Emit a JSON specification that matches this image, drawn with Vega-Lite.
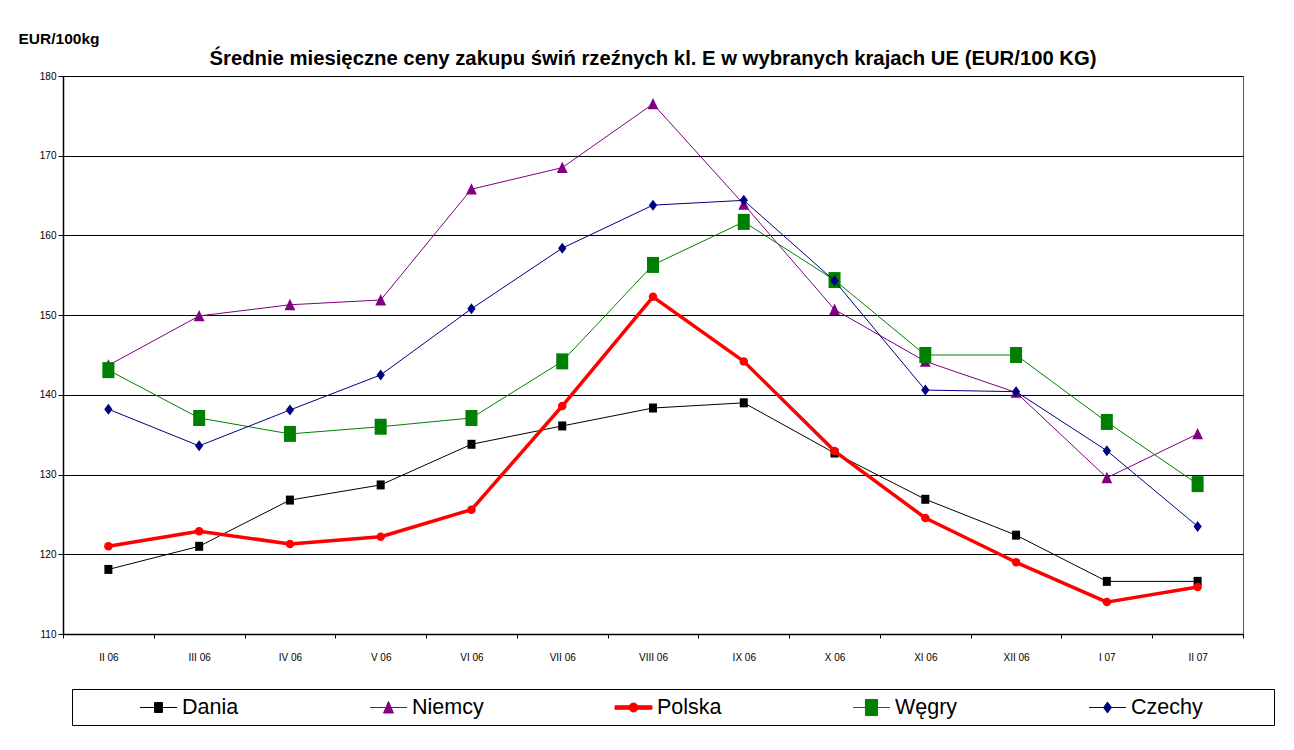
{
  "$schema": "https://vega.github.io/schema/vega-lite/v6.json",
  "width": 1180,
  "height": 558,
  "autosize": {"type": "none"},
  "padding": {"left": 63, "top": 76, "right": 51, "bottom": 116},
  "background": "white",
  "title": {
    "text": "Średnie miesięczne ceny zakupu świń rzeźnych kl. E w wybranych krajach UE (EUR/100 KG)",
    "font": "Liberation Sans",
    "fontSize": 20.3,
    "fontWeight": "bold",
    "color": "black",
    "anchor": "middle",
    "frame": "group",
    "baseline": "alphabetic",
    "offset": 0,
    "dy": 54
  },
  "config": {
    "view": {"stroke": "#555555", "strokeWidth": 1},
    "legend": {"symbolFillColor": "#000000", "symbolStrokeColor": "#000000"}
  },
  "data": {
    "values": [
      {"month": "II 06", "series": "Dania", "value": 118.1},
      {"month": "III 06", "series": "Dania", "value": 121.0},
      {"month": "IV 06", "series": "Dania", "value": 126.8},
      {"month": "V 06", "series": "Dania", "value": 128.7},
      {"month": "VI 06", "series": "Dania", "value": 133.8},
      {"month": "VII 06", "series": "Dania", "value": 136.1},
      {"month": "VIII 06", "series": "Dania", "value": 138.35},
      {"month": "IX 06", "series": "Dania", "value": 139.0},
      {"month": "X 06", "series": "Dania", "value": 132.7},
      {"month": "XI 06", "series": "Dania", "value": 126.9},
      {"month": "XII 06", "series": "Dania", "value": 122.4},
      {"month": "I 07", "series": "Dania", "value": 116.6},
      {"month": "II 07", "series": "Dania", "value": 116.6},
      {"month": "II 06", "series": "Niemcy", "value": 143.7},
      {"month": "III 06", "series": "Niemcy", "value": 149.9},
      {"month": "IV 06", "series": "Niemcy", "value": 151.3},
      {"month": "V 06", "series": "Niemcy", "value": 151.9},
      {"month": "VI 06", "series": "Niemcy", "value": 165.8},
      {"month": "VII 06", "series": "Niemcy", "value": 168.5},
      {"month": "VIII 06", "series": "Niemcy", "value": 176.5},
      {"month": "IX 06", "series": "Niemcy", "value": 163.9},
      {"month": "X 06", "series": "Niemcy", "value": 150.7},
      {"month": "XI 06", "series": "Niemcy", "value": 144.2},
      {"month": "XII 06", "series": "Niemcy", "value": 140.3},
      {"month": "I 07", "series": "Niemcy", "value": 129.6},
      {"month": "II 07", "series": "Niemcy", "value": 135.1},
      {"month": "II 06", "series": "Polska", "value": 121.0},
      {"month": "III 06", "series": "Polska", "value": 122.9},
      {"month": "IV 06", "series": "Polska", "value": 121.3},
      {"month": "V 06", "series": "Polska", "value": 122.2},
      {"month": "VI 06", "series": "Polska", "value": 125.6},
      {"month": "VII 06", "series": "Polska", "value": 138.6},
      {"month": "VIII 06", "series": "Polska", "value": 152.3},
      {"month": "IX 06", "series": "Polska", "value": 144.2},
      {"month": "X 06", "series": "Polska", "value": 132.95},
      {"month": "XI 06", "series": "Polska", "value": 124.55},
      {"month": "XII 06", "series": "Polska", "value": 119.0},
      {"month": "I 07", "series": "Polska", "value": 114.0},
      {"month": "II 07", "series": "Polska", "value": 115.9},
      {"month": "II 06", "series": "Węgry", "value": 143.1},
      {"month": "III 06", "series": "Węgry", "value": 137.1},
      {"month": "IV 06", "series": "Węgry", "value": 135.1},
      {"month": "V 06", "series": "Węgry", "value": 136.0},
      {"month": "VI 06", "series": "Węgry", "value": 137.1},
      {"month": "VII 06", "series": "Węgry", "value": 144.2},
      {"month": "VIII 06", "series": "Węgry", "value": 156.3},
      {"month": "IX 06", "series": "Węgry", "value": 161.7},
      {"month": "X 06", "series": "Węgry", "value": 154.4},
      {"month": "XI 06", "series": "Węgry", "value": 145.0},
      {"month": "XII 06", "series": "Węgry", "value": 145.0},
      {"month": "I 07", "series": "Węgry", "value": 136.6},
      {"month": "II 07", "series": "Węgry", "value": 128.8},
      {"month": "II 06", "series": "Czechy", "value": 138.2},
      {"month": "III 06", "series": "Czechy", "value": 133.6},
      {"month": "IV 06", "series": "Czechy", "value": 138.1},
      {"month": "V 06", "series": "Czechy", "value": 142.5},
      {"month": "VI 06", "series": "Czechy", "value": 150.8},
      {"month": "VII 06", "series": "Czechy", "value": 158.4},
      {"month": "VIII 06", "series": "Czechy", "value": 163.8},
      {"month": "IX 06", "series": "Czechy", "value": 164.4},
      {"month": "X 06", "series": "Czechy", "value": 154.3},
      {"month": "XI 06", "series": "Czechy", "value": 140.6},
      {"month": "XII 06", "series": "Czechy", "value": 140.4},
      {"month": "I 07", "series": "Czechy", "value": 133.0},
      {"month": "II 07", "series": "Czechy", "value": 123.5}
    ]
  },
  "encoding": {
    "x": {
      "field": "month",
      "type": "nominal",
      "sort": ["II 06", "III 06", "IV 06", "V 06", "VI 06", "VII 06", "VIII 06", "IX 06", "X 06", "XI 06", "XII 06", "I 07", "II 07"],
      "scale": {
        "type": "band",
        "domain": ["II 06", "III 06", "IV 06", "V 06", "VI 06", "VII 06", "VIII 06", "IX 06", "X 06", "XI 06", "XII 06", "I 07", "II 07"],
        "paddingInner": 0,
        "paddingOuter": 0
      },
      "axis": {
        "title": null,
        "labelAngle": 0,
        "labelFont": "Liberation Sans",
        "labelFontSize": 10,
        "labelColor": "black",
        "labelPadding": 14,
        "tickBand": "extent",
        "tickSize": 4,
        "tickColor": "black",
        "domainColor": "black",
        "domainWidth": 1.5,
        "grid": false
      }
    },
    "y": {
      "field": "value",
      "type": "quantitative",
      "scale": {"domain": [110, 180], "nice": false, "zero": false},
      "axis": {
        "title": "EUR/100kg",
        "titleAngle": 0,
        "titleAlign": "left",
        "titleBaseline": "alphabetic",
        "titleX": -45,
        "titleY": -33,
        "titleFont": "Liberation Sans",
        "titleFontSize": 15.5,
        "titleFontWeight": "bold",
        "titleColor": "black",
        "values": [110, 120, 130, 140, 150, 160, 170, 180],
        "grid": true,
        "gridColor": "black",
        "gridOpacity": 1,
        "gridWidth": 1,
        "domainColor": "black",
        "domainWidth": 1.5,
        "tickColor": "black",
        "tickSize": 5,
        "labelFont": "Liberation Sans",
        "labelFontSize": 10,
        "labelColor": "black",
        "labelPadding": 2
      }
    }
  },
  "layer": [
    {
      "transform": [{"filter": "datum.series == 'Dania'"}],
      "layer": [
        {"mark": {"type": "line", "color": "#000000", "strokeWidth": 1}},
        {"mark": {"type": "point", "filled": true, "shape": "M-0.89,-1H0.89V1H-0.89Z", "size": 81, "color": "#000000", "opacity": 1}}
      ]
    },
    {
      "transform": [{"filter": "datum.series == 'Niemcy'"}],
      "layer": [
        {"mark": {"type": "line", "color": "#800080", "strokeWidth": 1}},
        {"mark": {"type": "point", "filled": true, "shape": "M0,-1L0.9,0.9H-0.9Z", "size": 144, "color": "#800080", "opacity": 1}}
      ]
    },
    {
      "transform": [{"filter": "datum.series == 'Polska'"}],
      "layer": [
        {"mark": {"type": "line", "color": "#ff0000", "strokeWidth": 3.5, "strokeJoin": "round"}},
        {"mark": {"type": "point", "filled": true, "shape": "circle", "size": 72, "color": "#ff0000", "opacity": 1}}
      ]
    },
    {
      "transform": [{"filter": "datum.series == 'Węgry'"}],
      "layer": [
        {"mark": {"type": "line", "color": "#008000", "strokeWidth": 1}},
        {"mark": {"type": "point", "filled": true, "shape": "M-0.75,-1H0.75V1H-0.75Z", "size": 256, "color": "#008000", "opacity": 1}}
      ]
    },
    {
      "transform": [{"filter": "datum.series == 'Czechy'"}],
      "layer": [
        {"mark": {"type": "line", "color": "#000080", "strokeWidth": 1}},
        {"mark": {"type": "point", "filled": true, "shape": "M0,-1L0.75,0L0,1L-0.75,0Z", "size": 121, "color": "#000080", "opacity": 1}}
      ]
    },
    {
      "mark": {"type": "point", "filled": true, "opacity": 0},
      "encoding": {
        "fill": {
          "field": "series",
          "type": "nominal",
          "scale": {"domain": ["Dania", "Niemcy", "Polska", "Węgry", "Czechy"], "range": ["#000000", "#800080", "#ff0000", "#008000", "#000080"]},
          "legend": {
            "orient": "none",
            "legendX": 9,
            "legendY": 613,
            "direction": "horizontal",
            "columns": 5,
            "gridAlign": "each",
            "columnPadding": 129,
            "padding": 7,
            "strokeColor": "black",
            "fillColor": "white",
            "symbolSize": 484,
            "symbolOpacity": 1,
            "symbolStrokeWidth": 1,
            "labelFont": "Liberation Sans",
            "labelFontSize": 21.5,
            "labelColor": "black",
            "labelOffset": 12,
            "labelLimit": 300,
            "labelExpr": "datum.label == 'Czechy' ? 'Czechy\u2800\u2800\u2800\u2800' : datum.label",
            "title": " ",
            "titleOrient": "left",
            "titleFontSize": 1,
            "titlePadding": 68
          }
        },
        "stroke": {
          "field": "series",
          "type": "nominal",
          "scale": {"domain": ["Dania", "Niemcy", "Polska", "Węgry", "Czechy"], "range": ["#000000", "#800080", "#ff0000", "#008000", "#000080"]}
        },
        "shape": {
          "field": "series",
          "type": "nominal",
          "scale": {
            "domain": ["Dania", "Niemcy", "Polska", "Węgry", "Czechy"],
            "range": [
              "M-1.68,0H1.68M-0.36,-0.45H0.36V0.45H-0.36Z",
              "M-1.68,0H1.68M0,-0.55L0.45,0.5H-0.45Z",
              "M-1.68,-0.16H1.68V0.16H-1.68ZM0.41,0A0.41,0.41,0,1,1,-0.41,0A0.41,0.41,0,1,1,0.41,0Z",
              "M-1.68,0H1.68M-0.55,-0.73H0.55V0.73H-0.55Z",
              "M-1.68,0H1.68M0,-0.5L0.36,0L0,0.5L-0.36,0Z"
            ]
          }
        }
      }
    }
  ]
}
